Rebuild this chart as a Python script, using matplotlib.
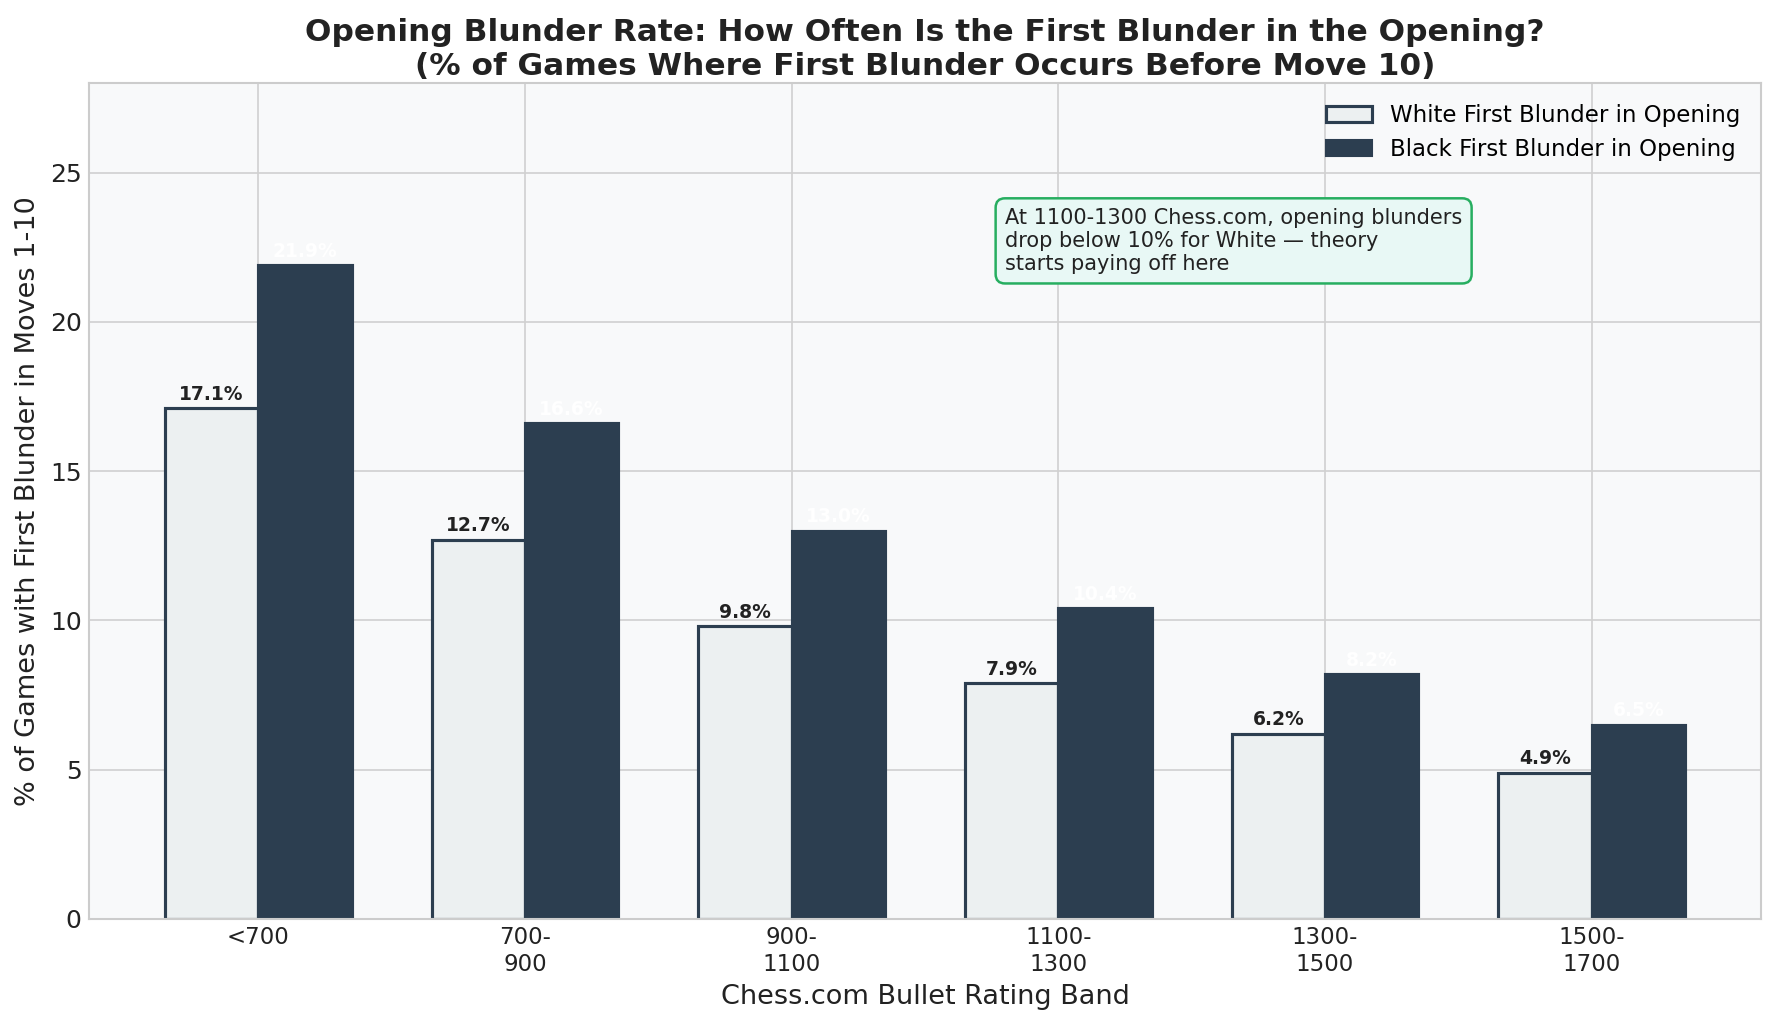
import numpy as np
import matplotlib.pyplot as plt
from matplotlib.patches import Patch

bands = ["<700", "700-\n900", "900-\n1100", "1100-\n1300", "1300-\n1500", "1500-\n1700"]
white_pct = [17.1, 12.7, 9.8, 7.9, 6.2, 4.9]
black_pct = [21.9, 16.6, 13.0, 10.4, 8.2, 6.5]

dark = "#2c3e50"
light = "#ecf0f1"

fig = plt.figure(figsize=(11.84, 1025 / 150), dpi=150)
ax = fig.add_axes([89 / 1776, 1 - 919 / 1025, (1761 - 89) / 1776, (919 - 83) / 1025])
ax.set_facecolor("#f8f9fa")
ax.set_axisbelow(True)
ax.grid(True, color="#d0d0d0", linewidth=0.8)
for s in ax.spines.values():
    s.set_color("#cccccc")
    s.set_linewidth(1.0)

x = np.arange(len(bands))
w = 0.35
wb = ax.bar(x - w / 2, white_pct, w, color=light, edgecolor=dark, linewidth=1.5)
bb = ax.bar(x + w / 2, black_pct, w, color=dark, edgecolor=dark, linewidth=1.5)

for r, v in zip(wb, white_pct):
    ax.text(r.get_x() + r.get_width() / 2, v + 0.15, f"{v:.1f}%", ha="center", va="bottom",
            fontsize=9, fontweight="bold", color="#222222")
for r, v in zip(bb, black_pct):
    ax.text(r.get_x() + r.get_width() / 2, v + 0.15, f"{v:.1f}%", ha="center", va="bottom",
            fontsize=9, fontweight="bold", color="white")

ax.set_ylim(0, 28)
ax.set_xticks(x)
ax.set_xticklabels(bands, fontsize=11, color="#222222")
ax.tick_params(axis="y", labelsize=12, colors="#222222", length=0)
ax.tick_params(axis="x", length=0)
ax.set_xlabel("Chess.com Bullet Rating Band", fontsize=13, color="#222222")
ax.set_ylabel("% of Games with First Blunder in Moves 1-10", fontsize=13, color="#222222")
ax.set_title("Opening Blunder Rate: How Often Is the First Blunder in the Opening?\n"
             "(% of Games Where First Blunder Occurs Before Move 10)",
             fontsize=15, fontweight="bold", color="#222222", pad=4)

handles = [Patch(facecolor=light, edgecolor=dark, linewidth=1.5, label="White First Blunder in Opening"),
           Patch(facecolor=dark, edgecolor=dark, label="Black First Blunder in Opening")]
ax.legend(handles=handles, loc="upper right", fontsize=11, frameon=False)

ax.text(2.8, 21.6, "At 1100-1300 Chess.com, opening blunders\ndrop below 10% for White \u2014 theory\nstarts paying off here",
        fontsize=10, color="#222222", va="bottom", ha="left",
        bbox=dict(boxstyle="round,pad=0.45", facecolor="#e8f8f5", edgecolor="#27ae60", linewidth=1.2))

fig.savefig("out.png", dpi=150)
